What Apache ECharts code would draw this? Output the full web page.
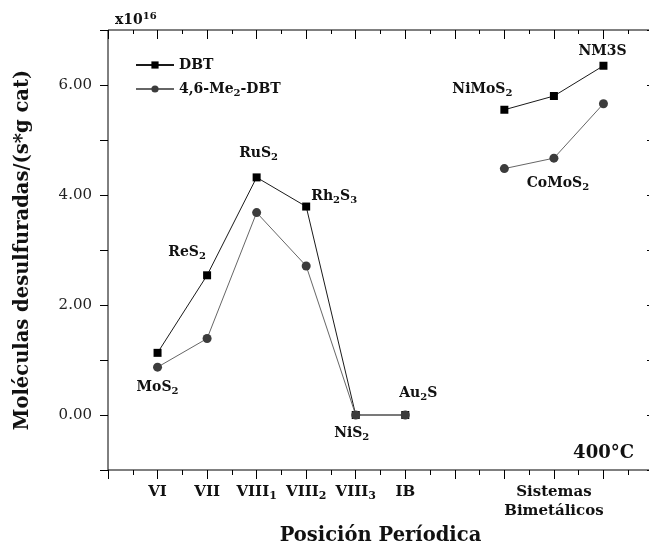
<!DOCTYPE html>
<html>
<head>
<meta charset="utf-8">
<script src="https://cdn.jsdelivr.net/npm/echarts@6/dist/echarts.min.js"></script>
<style>
  html, body { margin: 0; padding: 0; background: #fff; }
  #chart { width: 649px; height: 544px; }
</style>
</head>
<body>
<div id="chart"></div>
<script>
// x positions of the measured catalysts (7 is an empty slot)
const positions = [1, 2, 3, 4, 5, 6, 8, 9, 10];
const dbt = [1.13, 2.54, 4.32, 3.79, 0, 0, 5.55, 5.8, 6.35];
const meDbt = [0.87, 1.39, 3.68, 2.71, 0, 0, 4.48, 4.67, 5.66];

const tickValues = [1, 2, 3, 4, 5, 6, 9];
const tickNames = ["VI", "VII", "VIII_1", "VIII_2", "VIII_3", "IB", "Sistemas\nBimetálicos"];

// [name, series, index into positions]
const compounds = [
  ["MoS_2", "me", 0],
  ["ReS_2", "dbt", 1],
  ["RuS_2", "dbt", 2],
  ["Rh_2S_3", "dbt", 3],
  ["NiS_2", "dbt", 4],
  ["Au_2S", "dbt", 5],
  ["NiMoS_2", "dbt", 6],
  ["CoMoS_2", "me", 7],
  ["NM3S", "dbt", 8],
];
// label offsets from the point, px
const labelOffsets = [
  [0, 20], [-20, -23], [2, -24], [28, -10], [-4, 18],
  [13, -22], [-22, -20], [4, 25], [-1, -14],
];

const FONT = "DejaVu Serif";

// "Rh_2S_3" -> rich text with subscripts
const sub = (text) => {
  const parts = text.split(/_(\d)/);
  return parts
    .map((p, i) => (p === "" ? "" : i % 2 ? `{s|${p}}` : `{b|${p}}`))
    .join("");
};
const richFor = (size) => ({
  b: { fontFamily: FONT, fontWeight: "bold", fontSize: size, lineHeight: size + 4, verticalAlign: "middle", color: "#111" },
  s: { fontFamily: FONT, fontWeight: "bold", fontSize: size - 4, lineHeight: size - 4, verticalAlign: "bottom", padding: [3, 0, 0, 0], color: "#111" },
});

// break the line where positions jump
const withGaps = (values) => {
  const out = [];
  positions.forEach((x, i) => {
    if (i > 0 && x - positions[i - 1] > 1) out.push([x - 1, "-"]);
    out.push([x, values[i]]);
  });
  return out;
};

const chart = echarts.init(document.getElementById("chart"));

// the frame comes from the grid border, axis lines stay hidden
const noLine = { show: false, onZero: false };

const option = {
  animation: false,
  backgroundColor: "#fff",
  title: [
    {
      text: "{a|x10}{sup|16}",
      left: 110,
      top: 6,
      textStyle: {
        rich: {
          a: { fontFamily: FONT, fontWeight: "bold", fontSize: 14, color: "#111", verticalAlign: "bottom", lineHeight: 16 },
          sup: { fontFamily: FONT, fontWeight: "bold", fontSize: 10, color: "#111", verticalAlign: "top", lineHeight: 10 },
        },
      },
    },
    {
      text: "400°C",
      right: 10,
      top: 439,
      textStyle: { fontFamily: FONT, fontWeight: "bold", fontSize: 18, color: "#111" },
    },
  ],
  legend: {
    orient: "vertical",
    left: 135,
    top: 58,
    padding: 0,
    itemWidth: 38,
    itemHeight: 9,
    itemGap: 10,
    textStyle: { fontFamily: FONT, fontWeight: "bold", fontSize: 14, color: "#111", rich: richFor(14) },
    formatter: (name) => sub(name),
    data: ["DBT", "4,6-Me_2-DBT"],
  },
  grid: {
    left: 108, right: -4, top: 30, bottom: 74,
    outerBoundsMode: "none",
    show: true,
    borderColor: "#000",
    borderWidth: 1,
    backgroundColor: "transparent",
  },
  xAxis: [
    {
      type: "value",
      min: 0,
      max: 11,
      interval: 1,
      axisLine: noLine,
      axisTick: { show: true, inside: false, length: 9, lineStyle: { color: "#000" } },
      minorTick: { show: true, splitNumber: 2, length: 5, lineStyle: { color: "#000" } },
      splitLine: { show: false },
      axisLabel: {
        margin: 13,
        lineHeight: 19,
        rich: richFor(15),
        formatter: (v) => {
          const i = tickValues.indexOf(v);
          if (i < 0) return "";
          return tickNames[i].split("\n").map(sub).join("\n");
        },
      },
      name: "Posición Períodica",
      nameLocation: "middle",
      nameGap: 47,
      nameTextStyle: { fontFamily: FONT, fontWeight: "bold", fontSize: 19.5, color: "#111" },
    },
    {
      type: "value",
      position: "top",
      min: 0,
      max: 11,
      interval: 1,
      axisLine: noLine,
      axisTick: { show: true, inside: true, length: 9, lineStyle: { color: "#000" } },
      minorTick: { show: true, splitNumber: 2, length: 4, lineStyle: { color: "#000" } },
      splitLine: { show: false },
      axisLabel: { show: false },
    },
  ],
  yAxis: [
    {
      type: "value",
      min: -1,
      max: 7,
      interval: 1,
      axisLine: noLine,
      axisTick: { show: true, inside: false, length: 8, lineStyle: { color: "#000" } },
      splitLine: { show: false },
      axisLabel: {
        margin: 16,
        fontFamily: FONT,
        fontSize: 15,
        color: "#222",
        formatter: (v) => (v % 2 === 0 ? v.toFixed(2) : ""),
      },
      name: "Moléculas desulfuradas/(s*g cat)",
      nameLocation: "middle",
      nameGap: 75,
      nameTextStyle: { fontFamily: FONT, fontWeight: "bold", fontSize: 19.5, color: "#111" },
    },
    {
      type: "value",
      position: "right",
      min: -1,
      max: 7,
      interval: 1,
      axisLine: noLine,
      axisTick: { show: true, inside: true, length: 6, lineStyle: { color: "#000" } },
      splitLine: { show: false },
      axisLabel: { show: false },
    },
  ],
  series: [
    {
      name: "DBT",
      type: "line",
      data: withGaps(dbt),
      connectNulls: false,
      symbol: "rect",
      symbolSize: 8,
      itemStyle: { color: "#000" },
      lineStyle: { color: "#1a1a1a", width: 1 },
      z: 3,
    },
    {
      name: "4,6-Me_2-DBT",
      type: "line",
      data: withGaps(meDbt),
      connectNulls: false,
      symbol: "circle",
      symbolSize: 9,
      itemStyle: { color: "#3c3c3c" },
      lineStyle: { color: "#666", width: 1 },
      z: 4,
    },
    {
      name: "labels",
      type: "scatter",
      symbolSize: 0,
      silent: true,
      itemStyle: { opacity: 1 },
      data: compounds.map(([name, ser, idx], k) => ({
        value: [positions[idx], (ser === "dbt" ? dbt : meDbt)[idx]],
        label: {
          show: true,
          position: "inside",
          offset: labelOffsets[k],
          formatter: sub(name),
          rich: richFor(14),
        },
      })),
      z: 5,
    },
  ],
};

chart.setOption(option);
</script>
</body>
</html>
